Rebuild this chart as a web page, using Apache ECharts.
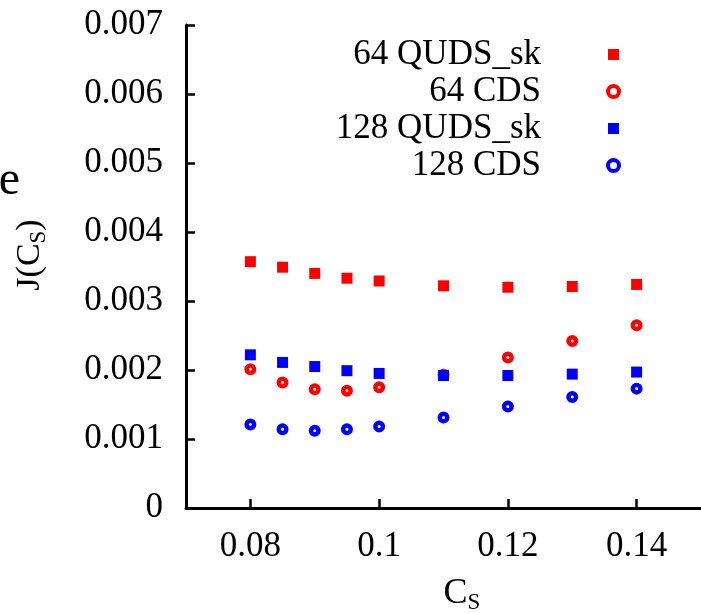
<!DOCTYPE html>
<html>
<head>
<meta charset="utf-8">
<script src="https://cdn.jsdelivr.net/npm/echarts@6/dist/echarts.min.js"></script>
<style>
  html, body { margin: 0; padding: 0; background: #fff; }
  #chart { width: 701px; height: 613px; }
</style>
</head>
<body>
<div id="chart"></div>
<script>
const cs = [0.08, 0.085, 0.09, 0.095, 0.1, 0.11, 0.12, 0.13, 0.14]
const quds64 = [0.00357, 0.00349, 0.00340, 0.00333, 0.00329, 0.00322, 0.00320, 0.00321, 0.00324]
const cds64 = [0.00201, 0.00182, 0.00172, 0.00170, 0.00175, 0.00193, 0.00218, 0.00242, 0.00265]
const quds128 = [0.00222, 0.00211, 0.00205, 0.00199, 0.00195, 0.00192, 0.00192, 0.00194, 0.00197]
const cds128 = [0.00121, 0.00114, 0.00112, 0.00114, 0.00118, 0.00131, 0.00147, 0.00161, 0.00173]
const xTicks = [0.08, 0.1, 0.12, 0.14]

const font = '"Liberation Serif", "DejaVu Serif", serif'
const pts = ys => cs.map((x, i) => [x, ys[i]])

const square = (name, color, ys) => ({
    name: name,
    type: 'scatter',
    symbol: 'rect',
    symbolSize: 11,
    itemStyle: {color: color, opacity: 1},
    data: pts(ys)
})
const ring = (name, color, ys) => ({
    name: name,
    type: 'scatter',
    symbol: 'circle',
    symbolSize: 7.5,
    itemStyle: {color: '#fff', borderColor: color, borderWidth: 4.5, opacity: 1},
    data: pts(ys)
})

const chart = echarts.init(document.getElementById('chart'))
chart.setOption({
    animation: false,
    backgroundColor: '#fff',
    grid: {left: 186, right: -6, top: 25, bottom: 105},
    legend: {
        orient: 'vertical',
        align: 'right',
        right: 75,
        top: 31,
        itemGap: 0,
        itemWidth: 11,
        itemHeight: 11,
        textStyle: {
            fontFamily: font,
            fontSize: 35,
            color: '#000',
            lineHeight: 37,
            width: 210,
            align: 'right',
            padding: [0, 62, 0, 0]
        },
        data: [
            {name: '64 QUDS_sk', icon: 'rect', itemStyle: {color: '#ff0000'}},
            {name: '64 CDS', icon: 'circle', itemStyle: {color: '#fff', borderColor: '#ff0000', borderWidth: 4}},
            {name: '128 QUDS_sk', icon: 'rect', itemStyle: {color: '#0000ff'}},
            {name: '128 CDS', icon: 'circle', itemStyle: {color: '#fff', borderColor: '#0000ff', borderWidth: 4}}
        ]
    },
    xAxis: {
        type: 'value',
        min: 0.07,
        max: 0.15,
        splitLine: {show: false},
        axisLine: {lineStyle: {color: '#000', width: 3}},
        axisTick: {inside: true, length: 9, customValues: xTicks, lineStyle: {color: '#000', width: 2.5}},
        axisLabel: {customValues: xTicks, margin: 21, fontFamily: font, fontSize: 35, color: '#000'}
    },
    yAxis: {
        type: 'value',
        min: 0,
        max: 0.007,
        interval: 0.001,
        splitLine: {show: false},
        axisLine: {show: true, lineStyle: {color: '#000', width: 3}},
        axisTick: {show: true, inside: true, length: 9, lineStyle: {color: '#000', width: 2.5}},
        axisLabel: {margin: 23, fontFamily: font, fontSize: 35, color: '#000'}
    },
    graphic: [
        {
            type: 'text', x: 20, y: 181,
            style: {text: 'e', font: '48px ' + font, fill: '#000', align: 'right', verticalAlign: 'middle'}
        },
        {
            type: 'text', x: 30, y: 255, rotation: Math.PI / 2,
            style: {
                text: '{a|J(C}{s|S}{a|)}',
                align: 'center', verticalAlign: 'middle',
                rich: {
                    a: {fontFamily: font, fontSize: 34, lineHeight: 40, fill: '#000'},
                    s: {fontFamily: font, fontSize: 23, lineHeight: 16, verticalAlign: 'bottom', fill: '#000'}
                }
            }
        },
        {
            type: 'text', x: 462, y: 594,
            style: {
                text: '{a|C}{s|S}',
                align: 'center', verticalAlign: 'middle',
                rich: {
                    a: {fontFamily: font, fontSize: 36, lineHeight: 40, fill: '#000'},
                    s: {fontFamily: font, fontSize: 23, lineHeight: 16, verticalAlign: 'bottom', fill: '#000'}
                }
            }
        }
    ],
    series: [
        square('64 QUDS_sk', '#ff0000', quds64),
        ring('64 CDS', '#ff0000', cds64),
        square('128 QUDS_sk', '#0000ff', quds128),
        ring('128 CDS', '#0000ff', cds128)
    ]
})
</script>
</body>
</html>
